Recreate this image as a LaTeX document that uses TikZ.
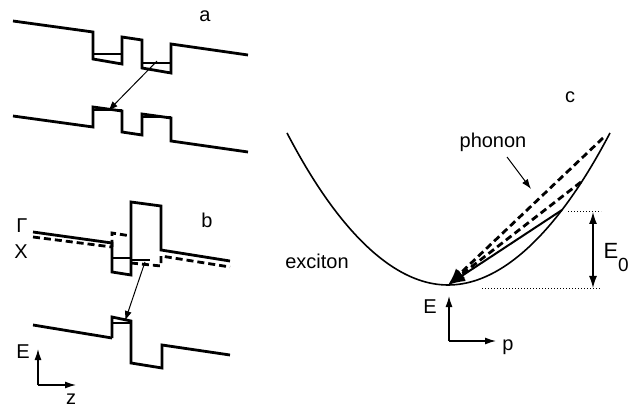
\documentclass[tikz,border=0pt]{standalone}
\usepackage{fontspec}
\setmainfont{Liberation Sans}
\usetikzlibrary{arrows.meta}
\begin{document}
\begin{tikzpicture}[x=1pt,y=-1pt,
  band/.style={line width=2.8pt, line join=miter, line cap=butt},
  levelline/.style={line width=1.8pt},
  dband/.style={line width=2.8pt, dash pattern=on 7pt off 4pt},
  lbl/.style={font=\fontsize{20}{24}\selectfont, inner sep=0pt},
  thinarrow/.style={line width=1pt, -{Latex[length=10pt,width=7pt]}},
  axarrow/.style={line width=1.3pt, -{Latex[length=11pt,width=7pt]}},
  curve/.style={line width=1.6pt}]
\useasboundingbox (0,0) rectangle (630,409);

% ---------- panel a ----------
\draw[band] (13,21) -- (93,32) -- (93,59) -- (122,64) -- (122,37) -- (142,40) -- (142,68) -- (171,73) -- (171,44) -- (248,55);
\draw[levelline] (93,54) -- (122,54);
\draw[levelline] (142,63) -- (171,63);
\draw[band] (13,116) -- (93,127) -- (93,107) -- (122,111) -- (122,132) -- (142,135) -- (142,114) -- (171,118) -- (171,141) -- (248,152);
\draw[levelline] (93,110) -- (122,110);
\draw[levelline] (142,117) -- (171,117);
\coordinate (aS) at (157,61);
\coordinate (aE) at (108,111);
\draw[thinarrow] (aS) -- (aE);
\node[lbl] (la) at (205,16) {a};

% ---------- panel b ----------
\draw[band] (33,232) -- (112,243) -- (112,272) -- (131,275) -- (131,202) -- (161,206) -- (161,250) -- (230,261);
\draw[levelline] (112,258) -- (131,258);
\draw[dband] (33,237) -- (112,247);
\draw[dband] (112,247) -- (112,233) -- (131,236);
\draw[dband] (131,263) -- (161,266) -- (161,256) -- (230,267);
\draw[levelline] (131,260) -- (150,260);
\draw[band] (112,338) -- (112,317) -- (131,321) -- (131,363) -- (162,368) -- (162,345) -- (230,355);
\draw[band] (33,325) -- (112,338);
\draw[levelline] (112,323) -- (131,323);
\coordinate (bS) at (145,262);
\coordinate (bE) at (125,321);
\draw[thinarrow] (bS) -- (bE);
\node[lbl] (lb) at (207,220) {b};
\node[lbl] (lG) at (22,226) {Γ};
\node[lbl] (lX) at (21,252) {X};

% E-z axes
\coordinate (zo) at (38,385);
\coordinate (zE) at (38,349);
\coordinate (zz) at (76,385);
\draw[axarrow] (zo) -- (zE);
\draw[axarrow] (zo) -- (zz);
\node[lbl] (lEz) at (23,352) {E};
\node[lbl] (lz) at (71,399) {z};

% ---------- panel c ----------
\coordinate (V) at (448,285);
\draw[curve] (287,133) parabola bend (V) (610,133);
\coordinate (P1) at (562,210);
\coordinate (D1) at (603,138);
\coordinate (D2) at (581,182);
\draw[dband, -{Latex[length=17pt,width=13pt]}] (D1) -- (V);
\draw[dband, -{Latex[length=17pt,width=13pt]}] (D2) -- (V);
\draw[line width=2pt, -{Latex[length=17pt,width=13pt]}] (P1) -- (V);
\node[lbl] (lph) at (493,142) {phonon};
\coordinate (phS) at (507,157);
\coordinate (phE) at (531,189);
\draw[thinarrow] (phS) -- (phE);
\node[lbl] (lc) at (570,97) {c};
\node[lbl] (lex) at (317,261) {exciton};

% E0 marker
\coordinate (t1) at (568,212);
\coordinate (t2) at (601,212);
\coordinate (b1) at (482,288);
\coordinate (b2) at (601,288);
\draw[line width=1pt, dotted] (t1) -- (t2);
\draw[line width=1pt, dotted] (b1) -- (b2);
\coordinate (e0t) at (593,212);
\coordinate (e0b) at (593,288);
\draw[line width=1.3pt, {Latex[length=12pt,width=8pt]}-{Latex[length=12pt,width=8pt]}] (e0t) -- (e0b);
\node[lbl, font=\fontsize{22}{26}\selectfont] (lE0) at (611,251) {E};
\node[lbl, font=\fontsize{19}{23}\selectfont, anchor=west] (l0) at (618,265) {0};

% E-p axes
\coordinate (po) at (449,341);
\coordinate (pE) at (449,296);
\coordinate (pp) at (496,341);
\draw[axarrow] (po) -- (pE);
\draw[axarrow] (po) -- (pp);
\node[lbl] (lEp) at (430,307) {E};
\node[lbl] (lp) at (508,347) {p};
\end{tikzpicture}
\end{document}
